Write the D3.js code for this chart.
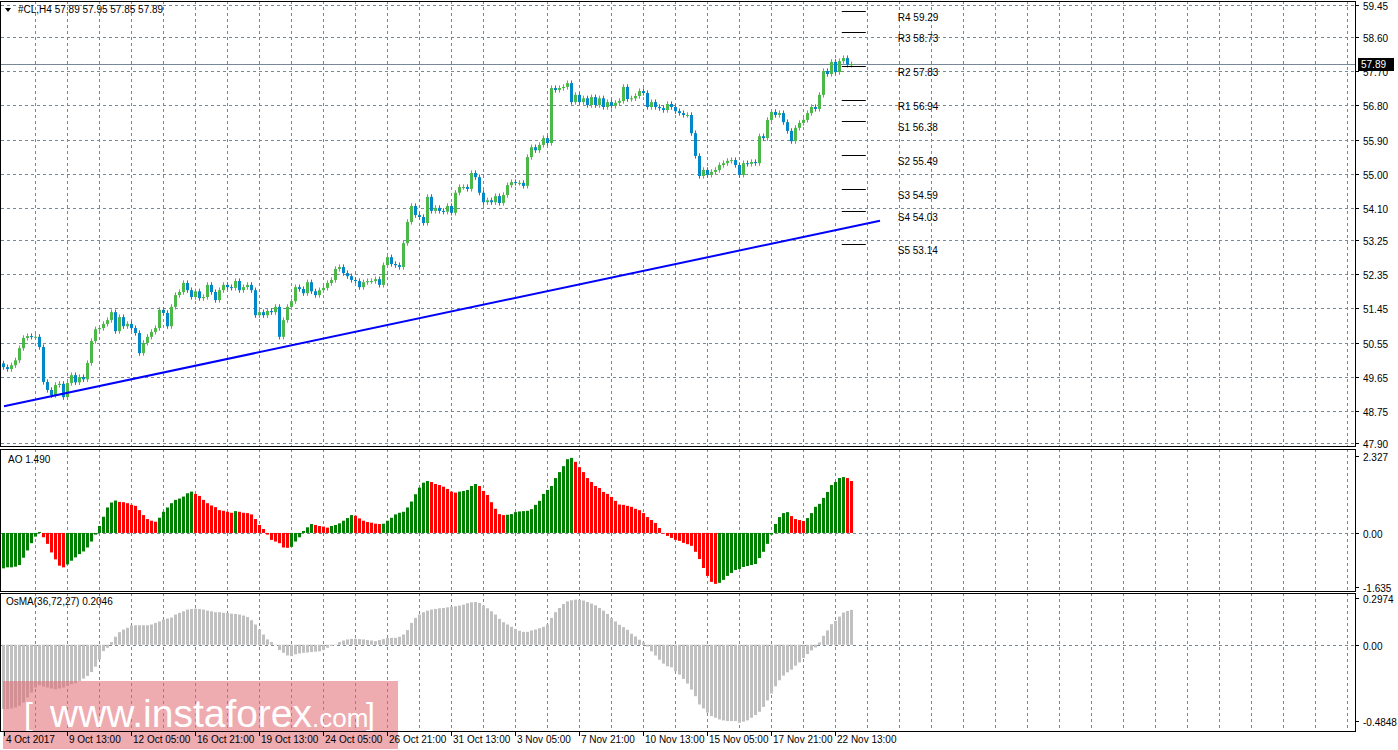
<!DOCTYPE html>
<html>
<head>
<meta charset="utf-8">
<title>#CL H4</title>
<style>
  body { margin: 0; background: #fff; }
  svg { display: block; font-family: "Liberation Sans", Arial, sans-serif; font-size: 10px; }
  .grid { stroke: #778899; stroke-dasharray: 3,3; stroke-width: 1; }
  .frame { fill: none; stroke: #000; stroke-width: 1; }
</style>
</head>
<body>
<svg id="chart"></svg>
<script src="https://d3js.org/d3.v7.min.js"></script>
<script>
// closes of each H4 bar (open = previous close)
var closes = [
  49.90,49.85,49.95,50.08,50.40,50.67,50.72,50.70,50.70,50.43,
  49.51,49.30,49.16,49.43,49.46,49.11,49.48,49.69,49.50,49.64,
  49.58,50.01,50.59,50.90,50.93,51.04,51.14,51.35,50.85,51.22,
  50.98,51.04,50.93,50.80,50.27,50.54,50.70,50.83,50.93,51.41,
  51.33,50.98,51.49,51.80,51.88,52.12,51.93,51.75,51.90,51.72,
  51.75,52.07,51.88,51.67,51.93,52.07,52.01,51.99,52.17,51.93,
  52.01,52.07,51.93,51.27,51.35,51.27,51.38,51.35,51.49,50.70,
  51.14,51.49,51.64,52.01,51.96,51.85,52.14,51.90,51.80,51.93,
  51.99,52.12,52.20,52.49,52.54,52.38,52.30,52.20,52.17,52.01,
  52.14,52.17,52.17,52.22,52.07,52.59,52.80,52.62,52.59,52.54,
  53.17,
  53.73,54.15,53.91,53.86,53.70,54.39,54.02,54.10,54.02,54.00,
  54.15,53.97,54.50,54.65,54.65,54.60,55.02,54.91,54.50,54.25,
  54.30,54.25,54.41,54.23,54.44,54.70,54.78,54.76,54.76,54.68,
  55.44,55.70,55.62,55.76,55.94,55.81,57.26,57.21,57.26,57.29,
  57.39,56.89,57.08,56.89,56.99,56.81,57.02,56.81,56.99,56.76,
  56.89,56.79,56.87,56.92,57.29,56.97,56.99,57.05,57.18,57.13,
  56.76,56.89,56.76,56.73,56.68,56.84,56.76,56.65,56.60,56.55,
  56.55,56.07,55.47,54.94,55.10,54.97,55.05,55.10,55.23,55.28,
  55.34,55.36,55.23,54.97,55.28,55.26,55.31,55.28,55.99,55.94,
  56.42,56.63,56.55,56.60,56.36,56.13,55.86,56.21,56.34,56.42,
  56.60,56.76,56.71,57.08,57.71,57.63,57.95,57.68,57.97,58.05,
  57.87,57.89
];
var firstOpen = 50.00;
var wick = 0.07;

var aoValues = [
  -1.07,-1.04,-1.04,-1.02,-0.97,-0.75,-0.53,-0.31,-0.11,0.03,
  -0.13,-0.33,-0.59,-0.80,-0.99,-1.04,-0.95,-0.84,-0.74,-0.64,
  -0.56,-0.44,-0.26,-0.05,0.21,0.49,0.77,0.92,0.98,0.94,
  0.93,0.90,0.85,0.82,0.69,0.54,0.42,0.37,0.34,0.46,
  0.64,0.77,0.90,1.00,1.04,1.10,1.20,1.25,1.18,1.12,
  1.00,0.90,0.83,0.78,0.69,0.67,0.64,0.61,0.66,0.64,
  0.61,0.60,0.56,0.42,0.24,0.12,-0.05,-0.21,-0.26,-0.31,
  -0.44,-0.45,-0.42,-0.26,-0.13,0.06,0.17,0.27,0.24,0.21,
  0.19,0.16,0.21,0.24,0.29,0.37,0.45,0.54,0.52,0.44,
  0.37,0.33,0.31,0.28,0.27,0.28,0.37,0.46,0.56,0.61,
  0.64,0.77,0.95,1.17,1.37,
  1.52,1.57,1.54,1.48,1.45,1.40,1.33,1.25,1.22,1.25,
  1.27,1.30,1.42,1.48,1.42,1.27,1.15,0.93,0.73,0.57,
  0.54,0.55,0.57,0.63,0.65,0.66,0.67,0.72,0.85,0.97,
  1.18,1.30,1.42,1.66,1.84,2.02,2.23,2.27,2.15,1.99,
  1.84,1.66,1.54,1.42,1.36,1.24,1.18,1.09,0.97,0.86,
  0.85,0.82,0.79,0.73,0.69,0.60,0.48,0.39,0.30,0.15,
  -0.02,-0.09,-0.15,-0.21,-0.24,-0.30,-0.34,-0.39,-0.57,-0.79,
  -1.06,-1.30,-1.48,-1.54,-1.51,-1.42,-1.30,-1.21,-1.12,-1.09,
  -1.03,-1.00,-0.97,-0.94,-0.76,-0.57,-0.33,-0.05,0.27,0.48,
  0.60,0.63,0.51,0.42,0.39,0.36,0.45,0.60,0.79,0.88,
  1.06,1.24,1.45,1.54,1.66,1.69,1.66,1.57
];

var osmaValues = [
  -0.409,-0.409,-0.405,-0.399,-0.388,-0.367,-0.335,-0.304,-0.272,-0.257,
  -0.266,-0.272,-0.278,-0.283,-0.278,-0.272,-0.262,-0.251,-0.245,-0.230,
  -0.215,-0.198,-0.173,-0.139,-0.093,-0.040,-0.019,0.017,0.051,0.080,
  0.097,0.108,0.122,0.124,0.124,0.124,0.124,0.129,0.139,0.148,
  0.160,0.167,0.173,0.192,0.203,0.213,0.224,0.228,0.230,0.228,
  0.224,0.217,0.213,0.207,0.207,0.203,0.203,0.198,0.196,0.192,
  0.186,0.177,0.156,0.129,0.097,0.065,0.034,0.017,-0.002,-0.034,
  -0.051,-0.068,-0.072,-0.061,-0.055,-0.051,-0.049,-0.046,-0.044,-0.042,
  -0.034,-0.019,-0.008,0.002,0.017,0.027,0.034,0.038,0.038,0.036,
  0.034,0.030,0.027,0.023,0.030,0.036,0.044,0.044,0.044,0.051,
  0.065,0.093,0.139,0.171,0.192,0.207,0.217,0.224,0.228,0.232,
  0.234,0.238,0.243,0.245,0.249,0.255,0.264,0.270,0.272,0.266,
  0.249,0.232,0.213,0.192,0.165,0.143,0.129,0.114,0.101,0.089,
  0.082,0.082,0.091,0.097,0.105,0.114,0.129,0.171,0.207,0.234,
  0.259,0.276,0.283,0.287,0.285,0.281,0.272,0.262,0.251,0.234,
  0.217,0.196,0.169,0.148,0.127,0.112,0.095,0.070,0.053,0.032,
  0.015,-0.011,-0.042,-0.068,-0.095,-0.120,-0.137,-0.143,-0.169,-0.190,
  -0.217,-0.247,-0.285,-0.327,-0.380,-0.405,-0.432,-0.454,-0.464,-0.475,
  -0.481,-0.485,-0.485,-0.485,-0.496,-0.489,-0.481,-0.464,-0.447,-0.426,
  -0.395,-0.354,-0.310,-0.264,-0.226,-0.196,-0.175,-0.158,-0.133,-0.112,
  -0.084,-0.059,-0.036,-0.017,0.015,0.057,0.091,0.131,0.152,0.179,
  0.205,0.215,0.222
];

var priceTicks = [59.45,58.60,57.70,56.80,55.90,55.00,54.10,53.25,52.35,51.45,50.55,49.65,48.75,47.90];
var aoTicks = [2.327, 0, -1.635];
var aoTickLabels = ["2.327","0.00","-1.635"];
var osmaTicks = [0.2974, 0, -0.4848];
var osmaTickLabels = ["0.2974","0.00","-0.4848"];
var timeLabels = ["4 Oct 2017","9 Oct 13:00","12 Oct 05:00","16 Oct 21:00","19 Oct 13:00","24 Oct 05:00",
  "26 Oct 21:00","31 Oct 13:00","3 Nov 05:00","7 Nov 21:00","10 Nov 13:00","15 Nov 05:00","17 Nov 21:00","22 Nov 13:00"];
var pivotNames = ["R4","R3","R2","R1","S1","S2","S3","S4","S5"];
var pivotValues = [59.29,58.73,57.83,56.94,56.38,55.49,54.59,54.03,53.14];
var trendPoints = [[0.25, 48.87], [219.25, 53.76]];
var lastPrice = 57.89;

var W = 1398, H = 750, plotR = 1355;
var svg = d3.select("#chart").attr("width", W).attr("height", H);

var x = d3.scaleLinear().domain([0, 212]).range([3, 851]);
var yP = d3.scaleLinear().domain([47.90, 59.45]).range([443, 5]);
var yA = d3.scaleLinear().domain([-1.635, 2.327]).range([587, 456]);
var yO = d3.scaleLinear().domain([-0.4848, 0.2974]).range([721, 598]);

var panels = [{t: 1, b: 446}, {t: 449, b: 591}, {t: 593, b: 731}];

// vertical grid every 8 bars
var vIdx = d3.range(8, 340, 8).filter(function(i) { return x(i) < plotR; });
panels.forEach(function(p) {
  svg.append("g").selectAll("line").data(vIdx).enter().append("line")
    .attr("class", "grid").attr("x1", d => x(d) + 0.5).attr("x2", d => x(d) + 0.5)
    .attr("y1", p.t).attr("y2", p.b);
});

// horizontal grid
svg.append("g").selectAll("line").data(priceTicks).enter().append("line")
  .attr("class", "grid").attr("x1", 1).attr("x2", plotR)
  .attr("y1", d => Math.round(yP(d)) + 0.5).attr("y2", d => Math.round(yP(d)) + 0.5);
svg.append("line").attr("class", "grid").attr("x1", 1).attr("x2", plotR)
  .attr("y1", Math.round(yA(0)) + 0.5).attr("y2", Math.round(yA(0)) + 0.5);
svg.append("line").attr("class", "grid").attr("x1", 1).attr("x2", plotR)
  .attr("y1", Math.round(yO(0)) + 0.5).attr("y2", Math.round(yO(0)) + 0.5);

// current price line
svg.append("line").attr("x1", 1).attr("x2", plotR)
  .attr("y1", Math.round(yP(lastPrice)) + 0.5).attr("y2", Math.round(yP(lastPrice)) + 0.5)
  .attr("stroke", "#778899").attr("stroke-width", 1);

// candles
var bars = closes.map(function(c, i) {
  var o = i === 0 ? firstOpen : closes[i - 1];
  return {i: i, o: o, c: c, h: Math.max(o, c) + wick, l: Math.min(o, c) - wick};
});
var cg = svg.append("g");
bars.forEach(function(d) {
  var col = d.c >= d.o ? "#4cb848" : "#0088c8";
  var cx = x(d.i);
  cg.append("line").attr("x1", cx + 0.5).attr("x2", cx + 0.5)
    .attr("y1", yP(d.h)).attr("y2", yP(d.l)).attr("stroke", col);
  var top = yP(Math.max(d.o, d.c)), bot = yP(Math.min(d.o, d.c));
  cg.append("rect").attr("x", cx - 1).attr("width", 3)
    .attr("y", top).attr("height", Math.max(1, bot - top)).attr("fill", col);
});

// trend line
svg.append("line")
  .attr("x1", x(trendPoints[0][0])).attr("y1", yP(trendPoints[0][1]))
  .attr("x2", x(trendPoints[1][0])).attr("y2", yP(trendPoints[1][1]))
  .attr("stroke", "#0000ff").attr("stroke-width", 2);

// pivots
pivotValues.forEach(function(v, k) {
  var yy = Math.round(yP(v)) + 0.5;
  svg.append("line").attr("x1", x(209.7)).attr("x2", x(215.7)).attr("y1", yy).attr("y2", yy)
    .attr("stroke", "#000");
  svg.append("text").attr("x", x(223.7)).attr("y", yy + 9).attr("fill", "#000")
    .text(pivotNames[k] + " " + v.toFixed(2));
});

// AO
var aoCol = [];
aoValues.forEach(function(v, i) {
  if (i === 0) aoCol.push("#008000");
  else if (v > aoValues[i - 1]) aoCol.push("#008000");
  else if (v < aoValues[i - 1]) aoCol.push("#ff0000");
  else aoCol.push(aoCol[i - 1]);
});
svg.append("g").selectAll("rect").data(aoValues).enter().append("rect")
  .attr("x", (d, i) => x(i) - 1).attr("width", 3)
  .attr("y", d => Math.min(yA(d), yA(0))).attr("height", d => Math.abs(yA(d) - yA(0)))
  .attr("fill", (d, i) => aoCol[i]);

// OsMA
svg.append("g").selectAll("rect").data(osmaValues).enter().append("rect")
  .attr("x", (d, i) => x(i) - 1).attr("width", 3)
  .attr("y", d => Math.min(yO(d), yO(0))).attr("height", d => Math.abs(yO(d) - yO(0)))
  .attr("fill", "#c0c0c0");

// watermark
var wm = svg.append("g");
wm.append("rect").attr("x", 3).attr("y", 681).attr("width", 395).attr("height", 68)
  .attr("fill", "#e06670").attr("fill-opacity", 0.55);
wm.append("text").attr("x", 24).attr("y", 725).attr("fill", "#fff").attr("font-size", 32).text("[");
wm.append("text").attr("x", 50).attr("y", 727).attr("fill", "#fff").attr("font-size", 38)
  .attr("textLength", 262).attr("lengthAdjust", "spacingAndGlyphs").text("www.instaforex");
wm.append("text").attr("x", 312).attr("y", 727).attr("fill", "#fff").attr("font-size", 26).text(".com");
wm.append("text").attr("x", 366).attr("y", 725).attr("fill", "#fff").attr("font-size", 32).text("]");

// frames
panels.forEach(function(p) {
  svg.append("rect").attr("class", "frame").attr("x", 0.5).attr("y", p.t + 0.5)
    .attr("width", plotR).attr("height", p.b - p.t);
});

// right axes
function rightAxis(scale, vals, labels) {
  var g = svg.append("g");
  vals.forEach(function(v, k) {
    var yy = Math.round(scale(v)) + 0.5;
    g.append("line").attr("x1", plotR).attr("x2", plotR + 4).attr("y1", yy).attr("y2", yy).attr("stroke", "#000");
    g.append("text").attr("x", plotR + 8).attr("y", yy + 4).text(labels[k]);
  });
}
rightAxis(yP, priceTicks, priceTicks.map(d => d.toFixed(2)));
rightAxis(yA, aoTicks, aoTickLabels);
rightAxis(yO, osmaTicks, osmaTickLabels);

// last price box
var ly = Math.round(yP(lastPrice));
svg.append("rect").attr("x", plotR + 3).attr("y", ly - 6).attr("width", 36).attr("height", 13).attr("fill", "#000");
svg.append("text").attr("x", plotR + 6).attr("y", ly + 4).attr("fill", "#fff").text(lastPrice.toFixed(2));

// time axis
timeLabels.forEach(function(t, k) {
  var xx = k === 0 ? 4 : x(16 * k);
  svg.append("line").attr("x1", xx + 0.5).attr("x2", xx + 0.5).attr("y1", 731).attr("y2", 736).attr("stroke", "#000");
  svg.append("text").attr("x", xx + 2).attr("y", 743).text(t);
});

// panel titles
svg.append("path").attr("d", "M5,8 L11,8 L8,12 Z").attr("fill", "#000");
svg.append("text").attr("x", 18).attr("y", 13).text("#CL,H4  57.89 57.95 57.85 57.89");
svg.append("text").attr("x", 8).attr("y", 463).text("AO 1.490");
svg.append("text").attr("x", 6).attr("y", 605).text("OsMA(36,72,27) 0.2046");
</script>
</body>
</html>
